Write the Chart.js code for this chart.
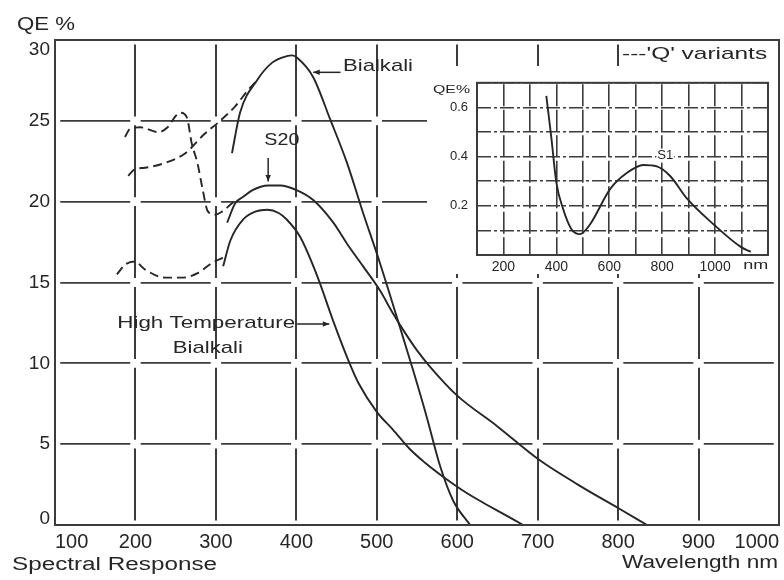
<!DOCTYPE html>
<html>
<head>
<meta charset="utf-8">
<script src="https://cdn.jsdelivr.net/npm/chart.js@4.4.1/dist/chart.umd.min.js"></script>
<style>
  html, body { margin: 0; padding: 0; background: #fff; }
  #wrap { position: relative; width: 784px; height: 580px; }
  #mainChart { position: absolute; left: 0; top: 0; }
  #insetChart { position: absolute; left: 427px; top: 66px; background: #fff; }
</style>
</head>
<body>
<div id="wrap">
  <canvas id="mainChart" width="784" height="580"></canvas>
  <canvas id="insetChart" width="350" height="208"></canvas>
</div>
<script>
// main plot: wavelength (nm) vs QE (%)
const xMin = 100, xMax = 1000, xStep = 100;
const yMin = 0, yMax = 30, yStep = 5;

const bialkaliNm = [320, 330, 351, 370, 388, 395, 401, 421, 442, 463, 483, 502, 529, 545, 562, 579, 595, 616];
const bialkaliQe = [23.0, 25.5, 27.5, 28.6, 29.0, 29.05, 28.9, 27.7, 25.1, 22.4, 19.3, 16.5, 12.2, 9.6, 6.7, 3.6, 1.5, 0];

const s20Nm = [314, 324, 334, 345, 365, 380, 401, 421, 446, 463, 483, 504, 520, 535, 550, 566, 600, 650, 700, 750, 800, 836];
const s20Qe = [18.7, 19.9, 20.3, 20.7, 21.0, 21.0, 20.7, 20.1, 18.7, 17.4, 16.0, 14.5, 13.1, 11.9, 10.8, 9.8, 8.0, 6.1, 4.1, 2.5, 1.05, 0];

const htNm = [309, 318, 334, 350, 364, 378, 388, 405, 426, 446, 467, 477, 500, 520, 541, 560, 582, 605, 628, 655, 682];
const htQe = [16.0, 17.6, 18.9, 19.4, 19.5, 19.3, 18.9, 17.8, 15.4, 12.6, 9.9, 8.8, 7.0, 5.9, 4.7, 3.85, 3.0, 2.2, 1.5, 0.75, 0];

// 'Q' variants (dashed)
const bialkaliQNm = [191, 199, 212, 237, 262, 286, 303, 324, 340, 351];
const bialkaliQQe = [21.6, 22.0, 22.1, 22.4, 23.0, 24.2, 24.9, 25.9, 26.9, 27.5];

const s20QNm = [187, 193, 206, 228, 240, 250, 256, 264, 270, 277, 283, 290, 299, 308, 320, 326];
const s20QQe = [24.0, 24.5, 24.6, 24.3, 24.6, 25.3, 25.5, 25.2, 23.6, 22.4, 20.9, 19.4, 19.2, 19.4, 19.9, 20.1];

const htQNm = [177, 187, 199, 212, 237, 258, 278, 295, 312];
const htQQe = [15.5, 16.1, 16.3, 15.8, 15.3, 15.3, 15.6, 16.2, 16.6];

// inset: S1
const insetXMin = 100, insetXMax = 1200, insetXStep = 100;
const insetYMin = 0, insetYMax = 0.7, insetYStep = 0.1;
const s1Nm = [362, 381, 400, 425, 457, 489, 527, 603, 666, 729, 780, 831, 894, 995, 1097, 1135];
const s1Qe = [0.647, 0.477, 0.294, 0.189, 0.105, 0.085, 0.124, 0.268, 0.333, 0.366, 0.36, 0.32, 0.229, 0.124, 0.033, 0.013];

const INK = '#262626';
const GRID = '#3c3c3c';
const FONT = '"Liberation Sans", Arial, sans-serif';

Chart.defaults.font.family = FONT;
Chart.defaults.color = INK;

function pts(xs, ys) {
  return xs.map((x, i) => ({ x: x, y: ys[i] }));
}

function curve(xs, ys, dashed) {
  return {
    data: pts(xs, ys),
    borderColor: INK,
    borderWidth: 1.9,
    borderDash: dashed ? [9, 5] : [],
    pointRadius: 0,
    cubicInterpolationMode: 'monotone',
    fill: false
  };
}

// text squeezed/stretched to the width it has in the scan
function txt(ctx, s, x, y, size, width, align) {
  ctx.save();
  ctx.font = size + 'px ' + FONT;
  const w = ctx.measureText(s).width;
  ctx.translate(x, y);
  ctx.scale(width ? width / w : 1, 1);
  ctx.textAlign = align || 'left';
  ctx.textBaseline = 'middle';
  ctx.fillStyle = INK;
  ctx.fillText(s, 0, 0);
  ctx.restore();
}

function arrow(ctx, x1, y1, x2, y2) {
  const a = Math.atan2(y2 - y1, x2 - x1);
  ctx.save();
  ctx.strokeStyle = INK;
  ctx.fillStyle = INK;
  ctx.lineWidth = 1.5;
  ctx.beginPath();
  ctx.moveTo(x1, y1);
  ctx.lineTo(x2, y2);
  ctx.stroke();
  ctx.beginPath();
  ctx.moveTo(x2, y2);
  ctx.lineTo(x2 - 7 * Math.cos(a - 0.4), y2 - 7 * Math.sin(a - 0.4));
  ctx.lineTo(x2 - 7 * Math.cos(a + 0.4), y2 - 7 * Math.sin(a + 0.4));
  ctx.closePath();
  ctx.fill();
  ctx.restore();
}

const mainDecor = {
  id: 'mainDecor',
  afterDraw(chart) {
    const ctx = chart.ctx;
    const a = chart.chartArea;
    const X = v => chart.scales.x.getPixelForValue(v);
    const Y = v => chart.scales.y.getPixelForValue(v);

    ctx.save();
    ctx.strokeStyle = GRID;
    ctx.lineWidth = 2;
    ctx.strokeRect(a.left, a.top, a.right - a.left, a.bottom - a.top);
    ctx.restore();

    // end labels of the y axis sit inside the frame in the scan
    txt(ctx, String(yMax), a.left - 5, Y(yMax) + 10, 19, 0, 'right');
    txt(ctx, String(yMin), a.left - 5, Y(yMin) - 6, 19, 0, 'right');

    // legend box
    ctx.fillStyle = '#fff';
    ctx.fillRect(X(800) + 2, a.top + 2, a.right - X(800) - 4, 24);
    txt(ctx, "---'Q' variants", X(800) + 4, a.top + 14, 17, 145);

    // curve labels
    txt(ctx, 'Bialkali', X(458), Y(28.35), 17, 70);
    arrow(ctx, X(455), Y(28.0), X(421), Y(28.0));

    txt(ctx, 'S20', X(382), Y(23.8), 17, 35, 'center');
    arrow(ctx, X(365), Y(22.7), X(365), Y(21.25));

    txt(ctx, 'High Temperature', X(288), Y(12.5), 17, 178, 'center');
    txt(ctx, 'Bialkali', X(290), Y(10.95), 17, 70, 'center');
    arrow(ctx, X(401), Y(12.43), X(441), Y(12.43));

    // axis titles
    txt(ctx, 'QE %', 17, a.top - 15, 18, 58);
    txt(ctx, 'Spectral Response', 12, a.bottom + 40, 18, 205);
    txt(ctx, 'Wavelength nm', a.right - 157, a.bottom + 38, 18, 156);
  }
};

new Chart(document.getElementById('mainChart'), {
  type: 'line',
  data: {
    datasets: [
      curve(bialkaliNm, bialkaliQe, false),
      curve(s20Nm, s20Qe, false),
      curve(htNm, htQe, false),
      curve(bialkaliQNm, bialkaliQQe, true),
      curve(s20QNm, s20QQe, true),
      curve(htQNm, htQQe, true)
    ]
  },
  options: {
    responsive: false,
    animation: false,
    devicePixelRatio: 1,
    layout: { padding: { top: 40, right: 5, left: 0, bottom: 0 } },
    plugins: { legend: { display: false }, tooltip: { enabled: false } },
    scales: {
      x: {
        type: 'linear', min: xMin, max: xMax,
        afterFit: s => { s.height = 55; },
        ticks: { stepSize: xStep, autoSkip: false, maxRotation: 0, align: 'inner', padding: 5,
                 font: { size: 20 }, callback: v => String(v) },
        grid: { color: GRID, lineWidth: 2, drawTicks: false },
        border: { display: false, dash: [72, 8.83], dashOffset: 76.4 }
      },
      y: {
        type: 'linear', min: yMin, max: yMax,
        afterFit: s => { s.width = 55; },
        ticks: { stepSize: yStep, padding: 5, font: { size: 19 },
                 callback: v => (v === yMin || v === yMax) ? '' : String(v) },
        grid: { color: GRID, lineWidth: 1.7, drawTicks: false },
        border: { display: false, dash: [70, 10.44], dashOffset: 75.2 }
      }
    }
  },
  plugins: [mainDecor]
});

const insetDecor = {
  id: 'insetDecor',
  afterDraw(chart) {
    const ctx = chart.ctx;
    const a = chart.chartArea;
    const X = v => chart.scales.x.getPixelForValue(v);
    const Y = v => chart.scales.y.getPixelForValue(v);

    ctx.save();
    ctx.strokeStyle = GRID;
    ctx.lineWidth = 2;
    ctx.strokeRect(a.left, a.top, a.right - a.left, a.bottom - a.top);
    ctx.restore();

    txt(ctx, 'QE%', a.left - 44, a.top + 7, 11, 37);
    ctx.fillStyle = '#fff';
    ctx.fillRect(X(812) - 9, Y(0.404) - 7, 18, 14);
    txt(ctx, 'S1', X(812), Y(0.404), 13, 16, 'center');
    txt(ctx, 'nm', X(1154), a.bottom + 10, 13, 25, 'center');
  }
};

new Chart(document.getElementById('insetChart'), {
  type: 'line',
  data: { datasets: [curve(s1Nm, s1Qe, false)] },
  options: {
    responsive: false,
    animation: false,
    devicePixelRatio: 1,
    layout: { padding: { top: 12, right: 9, left: 0, bottom: 0 } },
    plugins: { legend: { display: false }, tooltip: { enabled: false } },
    scales: {
      x: {
        type: 'linear', min: insetXMin, max: insetXMax,
        afterFit: s => { s.height = 19; },
        ticks: { stepSize: insetXStep, autoSkip: false, maxRotation: 0, padding: 4, font: { size: 14 },
                 callback: v => (v % 200 === 0 && v <= 1000) ? String(v) : '' },
        grid: { color: GRID, lineWidth: 1.6, drawTicks: false },
        border: { display: false, dash: [22, 3.5], dashOffset: 24 }
      },
      y: {
        type: 'linear', min: insetYMin, max: insetYMax,
        afterFit: s => { s.width = 50; },
        ticks: { stepSize: insetYStep, padding: 9, font: { size: 13 },
                 callback: v => { const k = Math.round(v * 10); return (k === 2 || k === 4 || k === 6) ? (k / 10).toFixed(1) : ''; } },
        grid: { color: GRID, lineWidth: 1.4, drawTicks: false },
        border: { display: false, dash: [14, 3, 3, 3], dashOffset: 0 }
      }
    }
  },
  plugins: [insetDecor]
});
</script>
</body>
</html>
